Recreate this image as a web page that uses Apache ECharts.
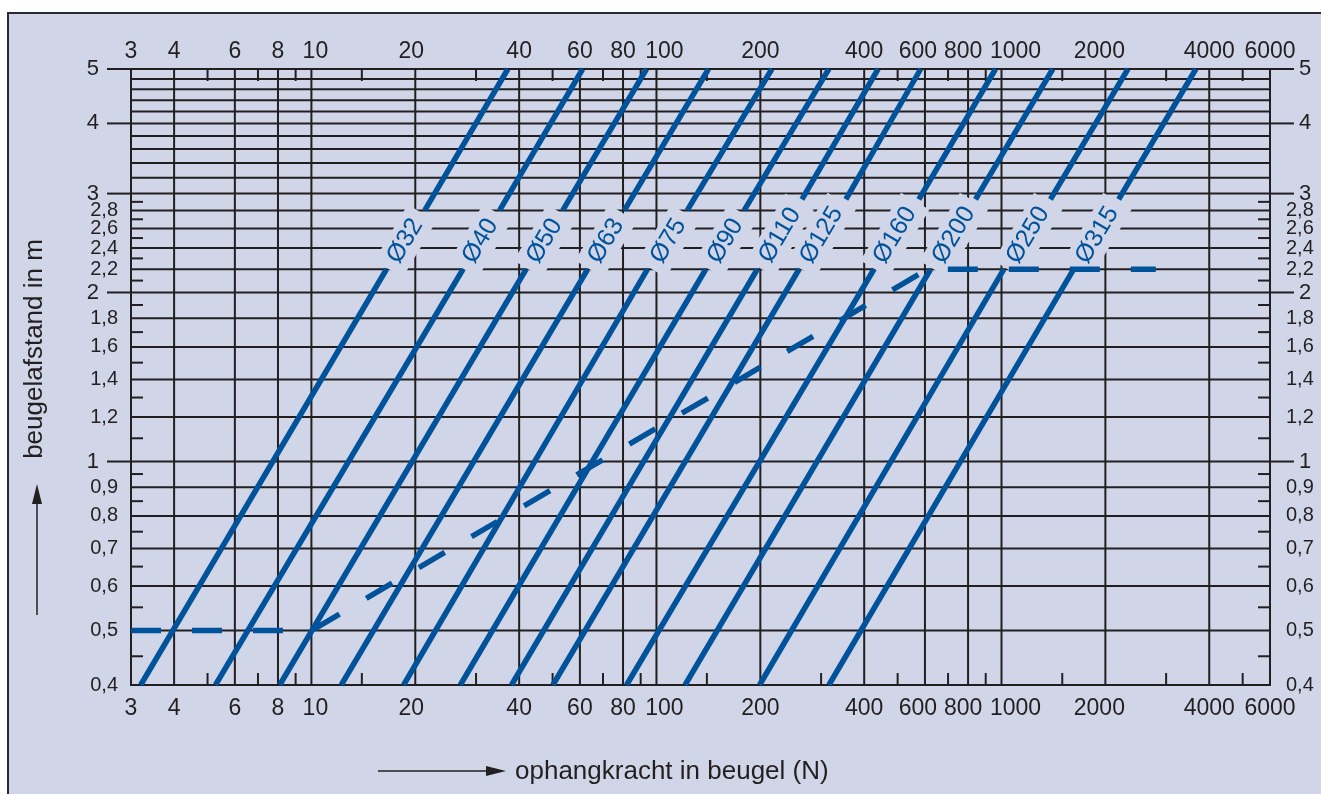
<!DOCTYPE html>
<html><head><meta charset="utf-8">
<script src="https://cdn.jsdelivr.net/npm/echarts@6/dist/echarts.min.js"></script>
<style>html,body{margin:0;padding:0;background:#fff}#c{width:1321px;height:794px}</style>
</head><body><div id="c"></div>
<script>
// ---- data ----
const diameters = ['Ø32','Ø40','Ø50','Ø63','Ø75','Ø90','Ø110','Ø125','Ø160','Ø200','Ø250','Ø315'];
const yBottom = 0.4, yLowEnd = 2.2, yTop = 5;
const xAtBottom  = [3.2, 5.27, 8.09, 12.2, 18.5, 27.0, 38.0, 50.1, 81.9, 121, 199, 316];
const xAtLowEnd  = [16.5, 27.5, 41.9, 63.2, 94.2, 139, 196, 259, 427, 623, 1016, 1619];
const yUpStart   = [2.8, 2.8, 2.8, 2.8, 2.8, 2.8, 2.93, 2.93, 2.93, 2.93, 2.93, 2.93];
const xAtUpStart = [21.3, 35.1, 53.5, 80.7, 122.8, 179.5, 264, 354, 576, 841, 1386, 2186];
const xAtTop     = [37.1, 61.1, 93.6, 141.5, 216, 316, 439, 583, 961, 1408, 2325, 3659];
const labelX = [18.7, 30.9, 47.4, 71.4, 108.3, 158.4, 228, 300.7, 491, 727, 1193, 1894];
const labelY = [2.47, 2.47, 2.47, 2.47, 2.47, 2.47, 2.53, 2.53, 2.53, 2.53, 2.53, 2.53];
const exampleX = [3, 10, 610, 2800];
const exampleY = [0.5, 0.5, 2.2, 2.2];

const xMin = 3, xMax = 6000, yMin = 0.4, yMax = 5;
const xGridValues  = [4, 6, 8, 10, 20, 40, 60, 80, 100, 200, 400, 600, 800, 1000, 2000, 4000];
const xLabelValues = [3, 4, 6, 8, 10, 20, 40, 60, 80, 100, 200, 400, 600, 800, 1000, 2000, 4000, 6000];
const xMinorTicks  = [5, 7, 9, 14, 30, 50, 70, 90, 140, 300, 500, 700, 900, 1500, 3000, 5000];
const yGridValues  = [0.5, 0.6, 0.7, 0.8, 0.9, 1, 1.2, 1.4, 1.6, 1.8, 2, 2.2, 2.4, 2.6, 2.8, 3, 3.2, 3.4, 3.6, 3.8, 4, 4.2, 4.4, 4.6, 4.8];
const yLabelValues = [0.4, 0.5, 0.6, 0.7, 0.8, 0.9, 1.2, 1.4, 1.6, 1.8, 2.2, 2.4, 2.6, 2.8];
const yMajorValues = [1, 2, 3, 4, 5];
const yMinorTicks  = [0.45, 0.55, 0.65, 0.75, 0.85, 0.95, 1.1, 1.3, 1.5, 1.7, 1.9, 2.1, 2.3, 2.5, 2.7, 2.9];
const xTitle = 'ophangkracht in beugel (N)';
const yTitle = 'beugelafstand in m';

// ---- layout / styles ----
const xLabelNudge = {10: 4, 20: -4, 100: 8, 600: -7, 800: -5, 1000: 14, 2000: -6};
const BG = '#d0d6e8', INK = '#231f20', BLUE = '#00529b';
const FONT = '"Liberation Sans", Arial, Helvetica, sans-serif';
const fmtY = v => String(v).replace('.', ',');

const chart = echarts.init(document.getElementById('c'), null, {renderer: 'canvas'});

function frameItem(params, api) {
  const c = (x, y) => api.coord([x, y]);
  const ch = [];
  const line = (a, b, w) => ch.push({type: 'line', shape: {x1: a[0], y1: a[1], x2: b[0], y2: b[1]}, style: {stroke: INK, lineWidth: w || 2}});
  const text = (t, x, y, align, size) => ch.push({type: 'text', x: x, y: y, style: {text: t, fill: INK, font: size + 'px ' + FONT, align: align, verticalAlign: 'middle'}});
  const tl = c(xMin, yMax), br = c(xMax, yMin);
  const L = tl[0], T = tl[1], R = br[0], B = br[1];
  xGridValues.forEach(v => line(c(v, yMax), c(v, yMin)));
  yGridValues.forEach(v => line(c(xMin, v), c(xMax, v)));
  ch.push({type: 'rect', shape: {x: L, y: T, width: R - L, height: B - T}, style: {fill: null, stroke: INK, lineWidth: 2}});
  xMinorTicks.forEach(v => { const p = c(v, yMax)[0]; line([p, T], [p, T + 12]); line([p, B], [p, B - 12]); });
  yMinorTicks.forEach(v => { const q = c(xMin, v)[1]; line([L, q], [L + 12, q]); line([R, q], [R - 12, q]); });
  yMajorValues.forEach(v => { const q = c(xMin, v)[1]; line([L - 24, q], [L, q]); line([R, q], [R + 24, q]);
    text(fmtY(v), L - 32, q, 'right', 22); text(fmtY(v), R + 29, q, 'left', 22); });
  yLabelValues.forEach(v => { const q = c(xMin, v)[1]; text(fmtY(v), L - 13, q, 'right', 20); text(fmtY(v), R + 16, q, 'left', 20); });
  xLabelValues.forEach(v => { const p = c(v, yMax)[0] + (xLabelNudge[v] || 0);
    text(String(v), p, T - 17, 'center', 23); text(String(v), p, B + 24, 'center', 23); });
  return {type: 'group', children: ch};
}

function labelItem(params, api) {
  const i = params.dataIndex;
  const p = api.coord([api.value(0), api.value(1)]);
  const a = api.coord([xAtBottom[i], yBottom]), b = api.coord([xAtTop[i], yTop]);
  const rot = Math.atan2(a[1] - b[1], b[0] - a[0]);
  return {type: 'text', x: p[0], y: p[1], rotation: rot,
    style: {text: diameters[i], fill: BLUE, font: '25px ' + FONT, align: 'center', verticalAlign: 'middle',
      backgroundColor: BG, padding: [5, 9, 3, 9]}};
}

const series = [
  {type: 'custom', name: 'frame', renderItem: frameItem, data: [[xMin, yMin]], clip: false, silent: true, z: 1, animation: false},
  {type: 'custom', name: 'labels', renderItem: labelItem, data: labelX.map((x, i) => [x, labelY[i]]), clip: false, silent: true, z: 2, animation: false}
];
diameters.forEach((d, i) => {
  const ls = {color: BLUE, width: 5.5, cap: 'butt'};
  series.push({type: 'line', name: d + ' a', data: [[xAtBottom[i], yBottom], [xAtLowEnd[i], yLowEnd]], showSymbol: false, symbol: 'none', lineStyle: ls, z: 3, silent: true, animation: false});
  series.push({type: 'line', name: d + ' b', data: [[xAtUpStart[i], yUpStart[i]], [xAtTop[i], yTop]], showSymbol: false, symbol: 'none', lineStyle: ls, z: 3, silent: true, animation: false});
});
series.push({type: 'line', name: 'voorbeeld', data: exampleX.map((x, i) => [x, exampleY[i]]), showSymbol: false, symbol: 'none',
  lineStyle: {color: BLUE, width: 5.5, type: [30, 31], cap: 'butt', join: 'miter'}, z: 3, silent: true, animation: false});

chart.setOption({
  animation: false,
  backgroundColor: '#ffffff',
  grid: {left: 131, right: 51, top: 69, bottom: 109, containLabel: false},
  xAxis: {type: 'log', logBase: 10, min: xMin, max: xMax, show: false},
  yAxis: {type: 'log', logBase: 10, min: yMin, max: yMax, show: false},
  graphic: [
    {type: 'rect', z: -100, shape: {x: 8, y: 13, width: 1340, height: 800}, style: {fill: BG, stroke: '#2b2b2b', lineWidth: 2}},
    {type: 'text', z: 10, x: 35, y: 349, rotation: Math.PI / 2, style: {text: yTitle, fill: INK, font: '26px ' + FONT, align: 'center', verticalAlign: 'middle'}},
    {type: 'line', z: 10, shape: {x1: 37, y1: 615, x2: 37, y2: 500}, style: {stroke: INK, lineWidth: 1.5}},
    {type: 'polygon', z: 10, shape: {points: [[37, 484], [32, 504], [42, 504]]}, style: {fill: INK}},
    {type: 'line', z: 10, shape: {x1: 378, y1: 771, x2: 490, y2: 771}, style: {stroke: INK, lineWidth: 1.5}},
    {type: 'polygon', z: 10, shape: {points: [[506, 771], [486, 766], [486, 776]]}, style: {fill: INK}},
    {type: 'text', z: 10, x: 515, y: 772, style: {text: xTitle, fill: INK, font: '26px ' + FONT, align: 'left', verticalAlign: 'middle'}}
  ],
  series: series
});
</script></body></html>
